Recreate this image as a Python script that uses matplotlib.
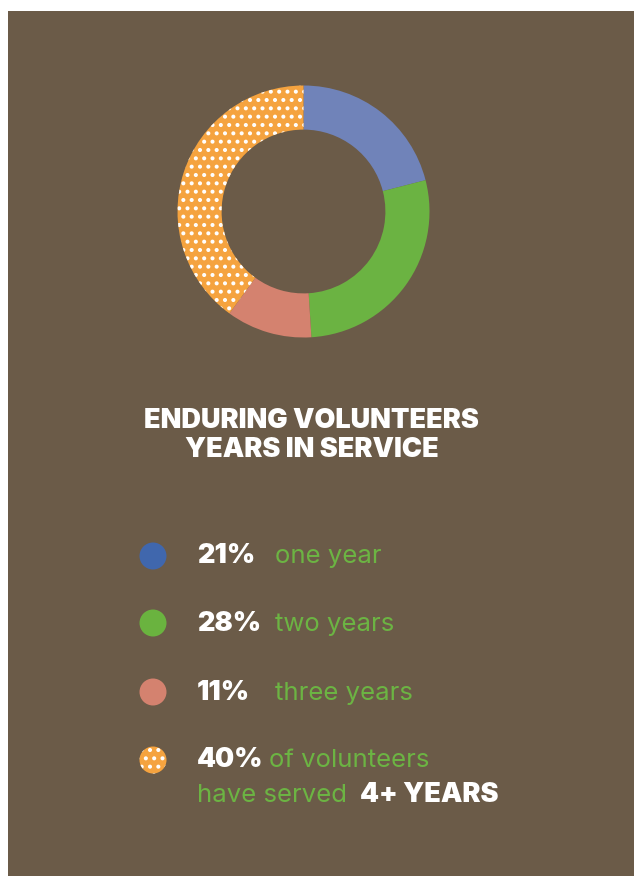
import matplotlib
matplotlib.use("Agg")
import matplotlib.pyplot as plt
from matplotlib.patches import Rectangle, Circle

# ---- data ----
categories = ["one year", "two years", "three years", "4+ years"]
shares = [21, 28, 11, 40]
pct_labels = ["21%", "28%", "11%", "40%"]
desc_labels = ["one year", "two years", "three years", "of volunteers"]
title_lines = ["ENDURING VOLUNTEERS", "YEARS IN SERVICE"]

# ---- style ----
BG = "#6B5B48"
ring_colors = ["#7083B9", "#6BB342", "#D4826F", "#F5A33F"]
legend_colors = ["#4067AD", "#6AB33F", "#D4826F", "#F5A33F"]
GREEN_TXT = "#6CB443"
W, H = 636, 876

plt.rcParams["hatch.linewidth"] = 1.7
fig = plt.figure(figsize=(W / 100, H / 100), dpi=100, facecolor="white")
ax = fig.add_axes([0, 0, 1, 1])
ax.set_axis_off()

def Y(y):  # pixel-from-top -> data
    return H - y

ax.add_patch(Rectangle((8, 0), W - 10, H - 11, facecolor=BG, edgecolor="none", zorder=0))

# donut
R = 126
wedges, _ = ax.pie(shares, colors=ring_colors, startangle=90, counterclock=False,
                   center=(303.5, Y(211.5)), radius=R,
                   wedgeprops=dict(width=R * 0.35, linewidth=0))
wedges[3].set_hatch("..")
wedges[3].set_edgecolor("white")
wedges[3].set_linewidth(0)

ax.set_xlim(0, W)
ax.set_ylim(0, H)
ax.set_aspect("equal")

bold = dict(family=["Inter", "DejaVu Sans"], fontweight=900, color="white")
light = dict(family=["Inter", "DejaVu Sans"], fontweight=400, color=GREEN_TXT)
BS, LS = 19.5, 18.5

# title
ax.text(311.5, Y(428), title_lines[0], ha="center", va="baseline", fontsize=BS, **bold)
ax.text(311.5, Y(457), title_lines[1], ha="center", va="baseline", fontsize=BS, **bold)

# legend
circle_y = [556, 623, 692, 760]
base_y = [563, 631, 700, 767]
desc_x = [275, 275, 275, 269]
for i in range(4):
    c = Circle((153, Y(circle_y[i])), 13.5, facecolor=legend_colors[i], edgecolor="none", zorder=3)
    ax.add_patch(c)
    if i == 3:
        c.set_hatch("..")
        c.set_edgecolor("white")
        c.set_linewidth(0)
    ax.text(197, Y(base_y[i]), pct_labels[i], ha="left", va="baseline", fontsize=BS, **bold)
    ax.text(desc_x[i], Y(base_y[i]), desc_labels[i], ha="left", va="baseline",
            fontsize=LS, **light)

ax.text(197, Y(802), "have served", ha="left", va="baseline", fontsize=LS, **light)
ax.text(360, Y(802), "4+ YEARS", ha="left", va="baseline", fontsize=BS, **bold)

fig.savefig("out.png", dpi=100, facecolor="white")
